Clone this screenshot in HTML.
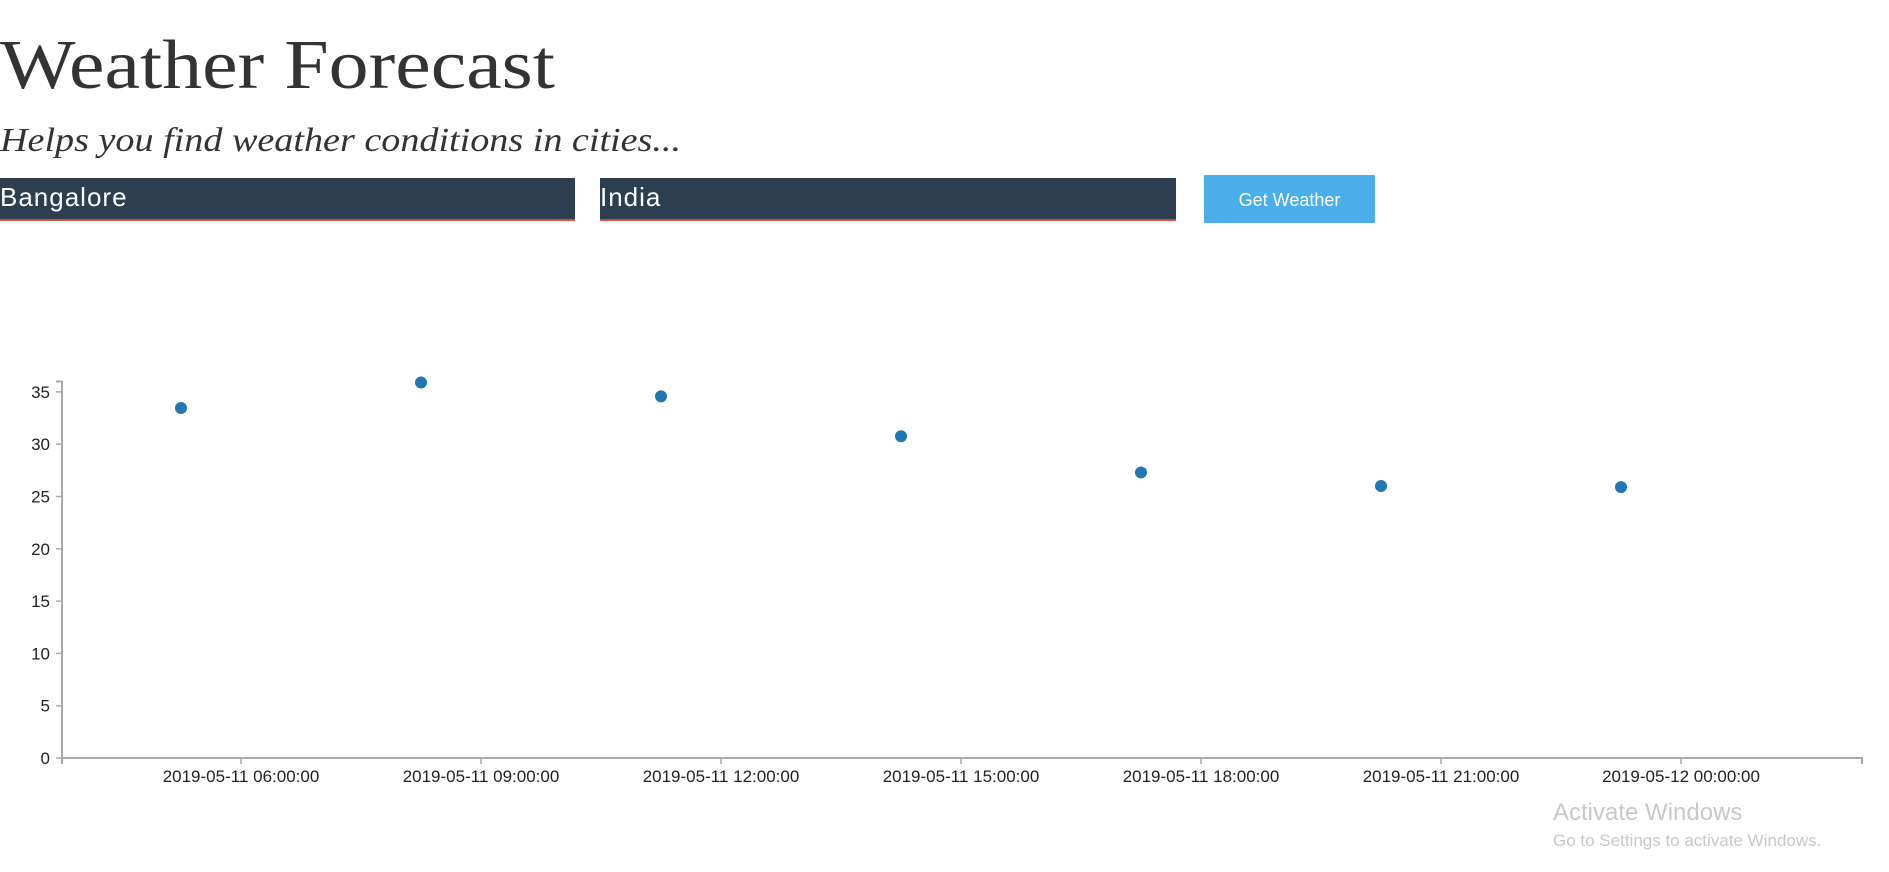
<!DOCTYPE html>
<html><head><meta charset="utf-8"><style>
html,body{margin:0;padding:0;background:#fff;width:1889px;height:872px;overflow:hidden}
svg{display:block}
text{font-family:"Liberation Sans",sans-serif}
</style></head><body>
<svg id="page" width="1889" height="872" viewBox="0 0 1889 872">
<text x="0" y="88" font-size="70" fill="#333" textLength="555" lengthAdjust="spacingAndGlyphs" style="font-family:'Liberation Serif',serif">Weather Forecast</text>
<text x="0" y="151" font-size="34" font-style="italic" fill="#333" textLength="681" lengthAdjust="spacingAndGlyphs" style="font-family:'Liberation Serif',serif">Helps you find weather conditions in cities...</text>
<g>
<rect x="0" y="178" width="575" height="42" fill="#2c3e50"/><rect x="0" y="219" width="575" height="2" fill="#e74c3c"/>
<text x="0" y="206" font-size="26" fill="#fff" letter-spacing="1">Bangalore</text></g>
<g>
<rect x="600" y="178" width="576" height="42" fill="#2c3e50"/><rect x="600" y="219" width="576" height="2" fill="#e74c3c"/>
<text x="600" y="206" font-size="26" fill="#fff" letter-spacing="1">India</text></g>
<g>
<rect x="1204" y="175" width="171" height="48" fill="#4aaeea" rx="1"/>
<text x="1289.5" y="206" font-size="18" fill="#fff" text-anchor="middle">Get Weather</text></g>
<g id="chart"></g>
<text x="1553" y="820" font-size="24" fill="#c8c8c8">Activate Windows</text>
<text x="1553" y="846" font-size="17" fill="#c8c8c8">Go to Settings to activate Windows.</text>
</svg>
<script>
const times = [5.25, 8.25, 11.25, 14.25, 17.25, 20.25, 23.25];
const temps = [33.46, 35.9, 34.57, 30.76, 27.3, 26.0, 25.9];
const yTicks = [0, 5, 10, 15, 20, 25, 30, 35];
const xTickHours = [6, 9, 12, 15, 18, 21, 24];
const xTickLabels = ["2019-05-11 06:00:00","2019-05-11 09:00:00","2019-05-11 12:00:00","2019-05-11 15:00:00","2019-05-11 18:00:00","2019-05-11 21:00:00","2019-05-12 00:00:00"];
const NS="http://www.w3.org/2000/svg";
const g=document.getElementById('chart');
const X0=62,X1=1862,Y0=758;
function xs(h){return 241+(h-6)*80;}
function ys(v){return Y0-v*10.46;}
function mk(t,a){const e=document.createElementNS(NS,t);for(const k in a)e.setAttribute(k,a[k]);g.appendChild(e);return e;}
let ax=mk('path',{d:`M${X0-6},${ys(36)}H${X0}V${Y0}`,fill:'none',stroke:'#aaa','stroke-width':2});


let bx=mk('path',{d:`M${X0},${Y0+6}V${Y0}H${X1}V${Y0+6}`,fill:'none',stroke:'#aaa','stroke-width':2});


yTicks.forEach(v=>{
 const l=mk('line',{x1:X0-6,x2:X0,y1:ys(v),y2:ys(v),stroke:'#aaa','stroke-width':1.5});
 
 
 const t=mk('text',{x:X0-12,y:ys(v)+6,'font-size':17,fill:'#222','text-anchor':'end'});
 t.textContent=v;
 
 
});
xTickHours.forEach((h,i)=>{
 const l=mk('line',{x1:xs(h),x2:xs(h),y1:Y0,y2:Y0+6,stroke:'#aaa','stroke-width':1.5});
 
 
 const t=mk('text',{x:xs(h),y:782,'font-size':17,fill:'#222','text-anchor':'middle'});
 t.textContent=xTickLabels[i];
 
 
});
times.forEach((h,i)=>{
 const c=mk('circle',{cx:xs(h),cy:ys(temps[i]),r:6,fill:'#1f77b4'});
 
 
});
</script>
</body></html>
